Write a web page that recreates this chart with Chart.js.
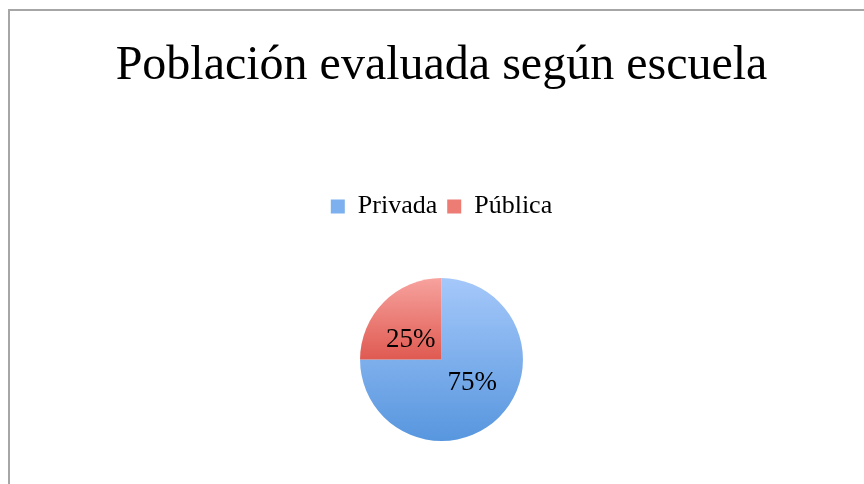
<!DOCTYPE html>
<html>
<head>
<meta charset="utf-8">
<script src="https://cdn.jsdelivr.net/npm/chart.js@4.4.1/dist/chart.umd.min.js"></script>
<style>
    html, body { margin: 0; padding: 0; background: #fff; overflow: hidden; }
    .frame {
        position: absolute;
        left: 8px;
        top: 9px;
        width: 900px;
        height: 520px;
        border: 2px solid #a6a6a6;
    }
    #chart { position: absolute; left: 0; top: 0; }
</style>
</head>
<body>
<div class="frame"></div>
<canvas id="chart" width="864" height="484"></canvas>
<script>
const categories = ['Privada', 'Pública'];
const shares = [75, 25];
const percentLabels = ['75%', '25%'];

// top / bottom colours of each slice gradient
const topColors = ['#a5c8fa', '#f7a29e'];
const bottomColors = ['#5796de', '#df5a51'];
const legendColors = ['#7cb0ee', '#ec7c74'];

function sliceGradient(context) {
    const chart = context.chart;
    const area = chart.chartArea;
    if (!area) return legendColors[context.dataIndex];
    const cy = (area.top + area.bottom) / 2;
    const r = Math.min(area.right - area.left, area.bottom - area.top) / 2;
    // red slice sits in the upper half, so its gradient ends at the centre
    const bottom = context.dataIndex === 1 ? cy : cy + r;
    const g = chart.ctx.createLinearGradient(0, cy - r, 0, bottom);
    g.addColorStop(0, topColors[context.dataIndex]);
    g.addColorStop(1, bottomColors[context.dataIndex]);
    return g;
}

const sliceLabels = {
    id: 'sliceLabels',
    afterDatasetsDraw(chart) {
        const ctx = chart.ctx;
        const meta = chart.getDatasetMeta(0);
        ctx.save();
        ctx.font = '27px "Liberation Serif", "Times New Roman", serif';
        ctx.fillStyle = '#000';
        ctx.textAlign = 'center';
        ctx.textBaseline = 'middle';
        meta.data.forEach((arc, i) => {
            const p = arc.tooltipPosition();
            const x = arc.x + (p.x - arc.x) * 1.07;
            const y = arc.y + (p.y - arc.y) * 0.75 + 1.5;
            ctx.fillText(percentLabels[i], x, y);
        });
        ctx.restore();
    }
};

new Chart(document.getElementById('chart').getContext('2d'), {
    type: 'pie',
    data: {
        labels: categories,
        datasets: [{
            data: shares,
            backgroundColor: sliceGradient,
            borderWidth: 0,
            hoverOffset: 0
        }]
    },
    options: {
        responsive: false,
        animation: false,
        layout: { padding: { top: 0, bottom: 43, left: 19, right: 0 } },
        plugins: {
            title: {
                display: true,
                text: 'Población evaluada según escuela',
                color: '#000',
                font: { family: '"Liberation Serif", "Times New Roman", serif', size: 48, weight: 'normal' },
                padding: { top: 38, bottom: 88 }
            },
            subtitle: {
                // empty spacer between legend and pie
                display: true,
                text: '',
                weight: 0,
                font: { size: 10, lineHeight: 1 },
                padding: { top: 38.5, bottom: 0 }
            },
            legend: {
                position: 'top',
                labels: {
                    color: '#000',
                    boxWidth: 14,
                    boxHeight: 14,
                    padding: 10,
                    font: { family: '"Liberation Serif", "Times New Roman", serif', size: 26 },
                    generateLabels(chart) {
                        return categories.map((c, i) => ({
                            text: c,
                            fillStyle: legendColors[i],
                            strokeStyle: legendColors[i],
                            lineWidth: 0,
                            hidden: false,
                            index: i
                        }));
                    }
                }
            },
            tooltip: { enabled: false }
        }
    },
    plugins: [sliceLabels]
});
</script>
</body>
</html>
